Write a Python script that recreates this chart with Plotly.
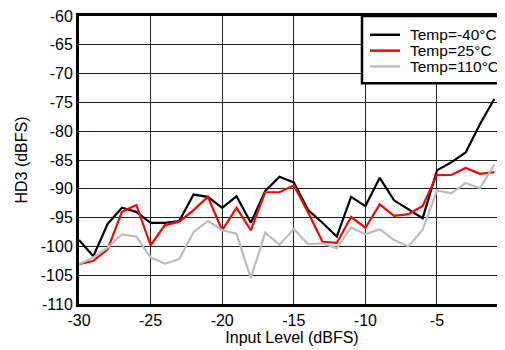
import plotly.graph_objects as go

input_level = [-30, -29, -28, -27, -26, -25, -24, -23, -22, -21, -20, -19, -18, -17, -16,
               -15, -14, -13, -12, -11, -10, -9, -8, -7, -6, -5, -4, -3, -2, -1]

hd3_m40 = [-98.9, -101.7, -96.1, -93.3, -94.0, -95.9, -95.9, -95.6, -91.0, -91.4,
           -93.3, -91.3, -95.9, -90.4, -87.9,
           -88.9, -93.7, -95.9, -98.3, -91.4, -93.0, -88.1, -92.0, -93.6, -95.1,
           -86.8, -85.4, -83.7, -78.8, -74.4]

hd3_25 = [-103.1, -102.5, -100.5, -94.0, -92.8, -99.8, -96.3, -95.7, -93.7, -91.4,
          -97.2, -93.3, -97.2, -90.6, -90.6,
          -89.4, -94.1, -99.2, -99.4, -94.9, -96.8, -92.7, -94.7, -94.4, -93.0,
          -87.6, -87.6, -86.4, -87.4, -87.1]

hd3_110 = [-103.1, -101.9, -100.2, -97.9, -98.3, -101.9, -103.0, -102.2, -97.5, -95.6,
           -97.2, -97.8, -105.5, -97.6, -99.7,
           -97.0, -99.6, -99.5, -100.3, -96.7, -97.9, -97.0, -98.9, -100.0, -97.1,
           -90.3, -90.8, -89.0, -89.9, -85.8]

series_names = ["Temp=-40°C", "Temp=25°C", "Temp=110°C"]
series_colors = ["#000000", "#ff0000", "#bdbdbd"]

x_ticks = [-30, -25, -20, -15, -10, -5]
y_ticks = [-60, -65, -70, -75, -80, -85, -90, -95, -100, -105, -110]

# figure geometry (page adds an 8px body margin)
W, H = 497, 342
ML, MR, MT, MB = 71, 0, 5, 46
PW, PH = W - ML - MR, H - MT - MB


def px(x):
    return (x - ML) / PW


def py(y):
    return (H - MB - y) / PH


FONT = "Liberation Sans, Arial, Helvetica, sans-serif"

fig = go.Figure()
for name, vals, col in zip(series_names, [hd3_m40, hd3_25, hd3_110], series_colors):
    fig.add_trace(go.Scatter(x=input_level, y=vals, mode="lines", name=name,
                             line=dict(color=col, width=2.2), showlegend=False))

shapes = [dict(type="rect", xref="paper", yref="paper",
               x0=px(354), x1=px(520), y0=py(73), y1=py(5),
               line=dict(color="#000", width=2.5), fillcolor="white", layer="above")]
annotations = []
row_y = [24, 40, 56]
for name, col, ry in zip(series_names, series_colors, row_y):
    shapes.append(dict(type="line", xref="paper", yref="paper",
                       x0=px(362), x1=px(392), y0=py(ry), y1=py(ry),
                       line=dict(color=col, width=2.5), layer="above"))
    annotations.append(dict(text=name, xref="paper", yref="paper",
                            x=px(400), y=py(ry), xanchor="left", yanchor="middle",
                            showarrow=False, font=dict(family=FONT, size=15.5, color="#000")))

fig.update_layout(
    width=W, height=H,
    margin=dict(l=ML, r=MR, t=MT, b=MB, pad=0),
    paper_bgcolor="white", plot_bgcolor="white",
    font=dict(family=FONT, size=16, color="#000"),
    showlegend=False,
    shapes=shapes,
    annotations=annotations,
    xaxis=dict(range=[-30, -0.25], tickvals=x_ticks, ticktext=[str(v) for v in x_ticks],
               showgrid=True, gridcolor="#222", gridwidth=1,
               showline=True, linecolor="#000", linewidth=3, mirror=True,
               ticks="", zeroline=False, ticklabeloverflow="allow",
               title=dict(text="Input Level (dBFS)", standoff=2, font=dict(size=16))),
    yaxis=dict(range=[-110, -60], tickvals=y_ticks, ticktext=[str(v) for v in y_ticks],
               showgrid=True, gridcolor="#222", gridwidth=1,
               showline=True, linecolor="#000", linewidth=3, mirror=False,
               ticks="", zeroline=False, ticklabeloverflow="allow",
               title=dict(text="HD3 (dBFS)", standoff=10, font=dict(size=16))),
)

fig.write_html("out.html")
